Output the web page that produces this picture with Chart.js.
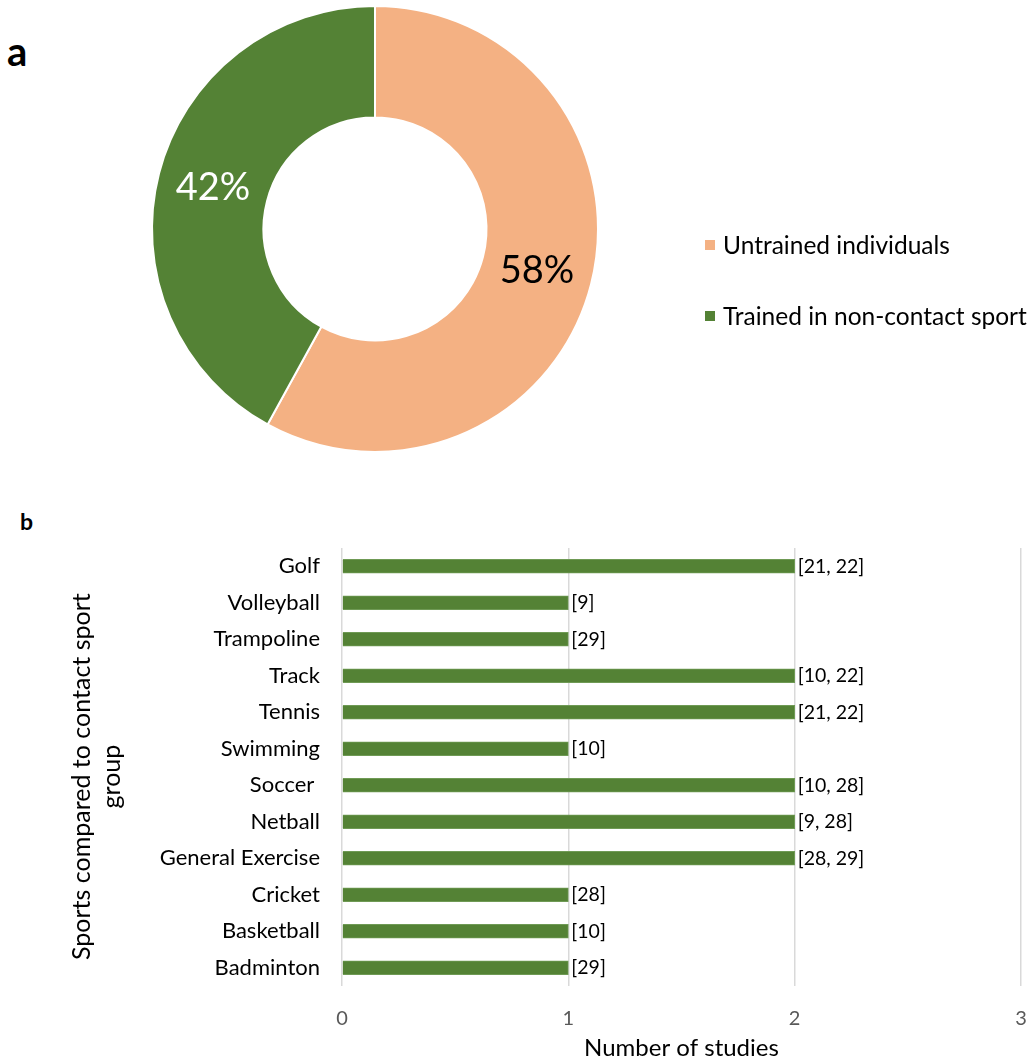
<!DOCTYPE html>
<html>
<head>
<meta charset="utf-8">
<script src="https://cdn.jsdelivr.net/npm/chart.js@4.4.1/dist/chart.umd.min.js"></script>
<style>
  html, body { margin: 0; padding: 0; background: #fff; }
  body { width: 1035px; height: 1061px; position: relative; overflow: hidden; font-family: Lato, "Noto Sans", sans-serif; }
  #c1 { position: absolute; left: 0; top: 0; }
  #c2 { position: absolute; left: 0; top: 490px; }
  .panel { position: absolute; font-weight: bold; color: #000; line-height: 1; }
  .leg { position: absolute; font-size: 24.5px; color: #000; white-space: nowrap; line-height: 1; }
  .sw { position: absolute; width: 10px; height: 10px; }
</style>
</head>
<body>
<div class="panel" style="left:7px; top:31px; font-size:40px;">a</div>
<div class="panel" style="left:20px; top:510px; font-size:23px;">b</div>
<canvas id="c1" width="1035" height="470"></canvas>
<canvas id="c2" width="1035" height="571"></canvas>
<div class="sw" style="left:705px; top:240px; background:#F4B183;"></div>
<div class="leg" id="leg1" style="left:723px; top:233px;"></div>
<div class="sw" style="left:705px; top:311px; background:#548235;"></div>
<div class="leg" id="leg2" style="left:723px; top:304px;"></div>
<script>
// ---- Panel a data ----
const pieLabels = ["Untrained individuals", "Trained in non-contact sport"];
const pieValues = [58, 42];
const pieColors = ["#F4B183", "#548235"];
const pieTextColors = ["#000000", "#ffffff"];

// ---- Panel b data ----
const sports = ["Golf", "Volleyball", "Trampoline", "Track", "Tennis", "Swimming", "Soccer ", "Netball", "General Exercise", "Cricket", "Basketball", "Badminton"];
const studyCounts = [2, 1, 1, 2, 2, 1, 2, 2, 2, 1, 1, 1];
const references = ["[21, 22]", "[9]", "[29]", "[10, 22]", "[21, 22]", "[10]", "[10, 28]", "[9, 28]", "[28, 29]", "[28]", "[10]", "[29]"];
const xTicks = [0, 1, 2, 3];

document.getElementById('leg1').textContent = pieLabels[0];
document.getElementById('leg2').textContent = pieLabels[1];

const FONT = "Lato, 'Noto Sans', sans-serif";
const PAD = "\u00a0\u00a0\u00a0";

const pctPlugin = {
  id: 'pct',
  afterDatasetsDraw(chart) {
    const ctx = chart.ctx;
    const meta = chart.getDatasetMeta(0);
    ctx.save();
    ctx.font = "38px " + FONT;
    ctx.textAlign = 'center';
    ctx.textBaseline = 'middle';
    meta.data.forEach((arc, i) => {
      const p = arc.tooltipPosition();
      ctx.fillStyle = pieTextColors[i];
      ctx.fillText(pieValues[i] + '%', p.x, p.y);
    });
    ctx.restore();
  }
};

new Chart(document.getElementById('c1'), {
  type: 'doughnut',
  data: {
    labels: pieLabels,
    datasets: [{ data: pieValues, backgroundColor: pieColors, borderColor: '#ffffff', borderWidth: 2 }]
  },
  options: {
    responsive: false,
    animation: false,
    cutout: '50%',
    layout: { padding: { left: 151, right: 436, top: 4, bottom: 16 } },
    plugins: { legend: { display: false }, tooltip: { enabled: false } }
  },
  plugins: [pctPlugin]
});

const refPlugin = {
  id: 'refs',
  afterDatasetsDraw(chart) {
    const ctx = chart.ctx;
    const meta = chart.getDatasetMeta(0);
    ctx.save();
    ctx.font = "19.5px " + FONT;
    ctx.fillStyle = '#000';
    ctx.textAlign = 'left';
    ctx.textBaseline = 'middle';
    meta.data.forEach((bar, i) => {
      ctx.fillText(references[i], bar.x + 3, bar.y);
    });
    ctx.restore();
  }
};

new Chart(document.getElementById('c2'), {
  type: 'bar',
  data: {
    labels: sports,
    datasets: [{ data: studyCounts, backgroundColor: '#548235', borderColor: '#6f9a55', borderWidth: 1, barThickness: 14 }]
  },
  options: {
    indexAxis: 'y',
    responsive: false,
    animation: false,
    layout: { padding: { left: 0, right: 14, top: 58, bottom: 0 } },
    plugins: { legend: { display: false }, tooltip: { enabled: false } },
    scales: {
      x: {
        min: 0, max: 3,
        afterBuildTicks(scale) { scale.ticks = xTicks.map(v => ({ value: v })); },
        ticks: { stepSize: 1, color: '#595959', font: { family: FONT, size: 20 }, padding: 0 },
        grid: { color: '#d9d9d9', lineWidth: 1.5, drawTicks: true, tickLength: 21, tickColor: 'rgba(0,0,0,0)' },
        border: { display: false },
        title: { display: true, text: 'Number of studies', color: '#000', font: { family: FONT, size: 24 }, padding: { top: 0, bottom: -2 } },
        afterFit(scale) { scale.height = 75; }
      },
      y: {
        ticks: { color: '#000', font: { family: FONT, size: 22 }, padding: 22, autoSkip: false },
        grid: { display: false, drawTicks: false },
        border: { display: false },
        title: { display: true, text: ['Sports compared to contact sport' + PAD, 'group' + PAD], color: '#000', font: { family: FONT, size: 25 }, padding: { top: 67, bottom: 0 } },
        afterFit(scale) { scale.width = 342; }
      }
    }
  },
  plugins: [refPlugin]
});
</script>
</body>
</html>
